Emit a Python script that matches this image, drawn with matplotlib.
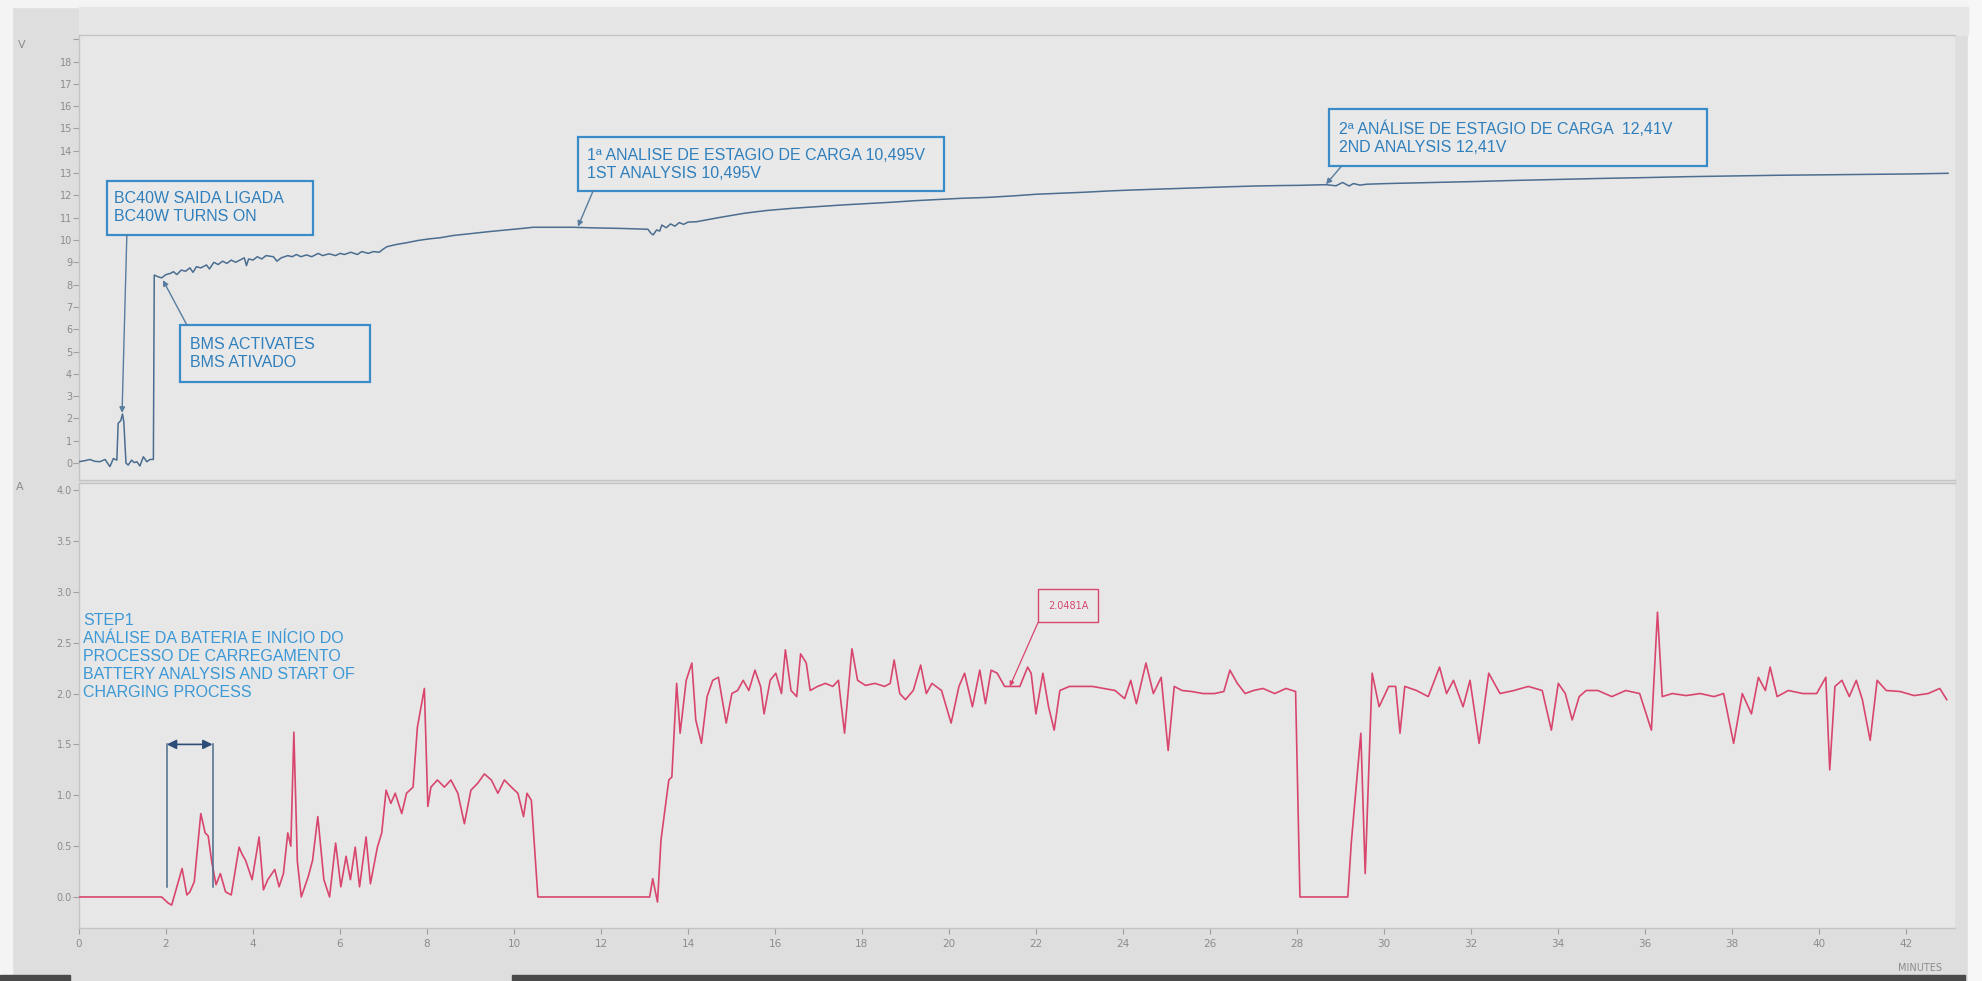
# plot.py

import matplotlib.pyplot as plt
from matplotlib.patches import Rectangle

# voltage trace (minutes, V)
volt_t = [0.0, 0.12, 0.25, 0.36, 0.48, 0.6, 0.71, 0.79, 0.87, 0.9, 0.96, 1.0, 1.03, 1.08, 1.13,
          1.21, 1.27, 1.33, 1.4, 1.48, 1.56, 1.63, 1.71, 1.73, 1.82, 1.9, 2.0, 2.1, 2.17, 2.25,
          2.35, 2.45, 2.55, 2.62, 2.7, 2.8, 2.93, 3.0, 3.1, 3.2, 3.3, 3.4, 3.5, 3.6, 3.7, 3.8,
          3.85, 3.9, 4.0, 4.1, 4.2, 4.3, 4.47, 4.55, 4.65, 4.8, 4.9, 5.0, 5.1, 5.23, 5.35, 5.5,
          5.6, 5.75, 5.9, 6.0, 6.1, 6.25, 6.4, 6.5, 6.65, 6.77, 6.9, 7.0, 7.08, 7.3, 7.54, 7.8,
          8.05, 8.3, 8.6, 9.07, 9.45, 9.83, 10.2, 10.44, 10.8, 11.36, 11.9, 12.44, 13.08, 13.15,
          13.2, 13.28, 13.35, 13.4, 13.5, 13.6, 13.7, 13.8, 13.9, 14.0, 14.2, 14.7, 15.3, 15.8,
          16.4, 17.0, 17.55, 18.1, 18.66, 19.2, 19.78, 20.3, 20.9, 21.5, 22.0, 22.6, 23.1, 23.7,
          24.2, 24.8, 25.4, 25.95, 26.5, 27.05, 27.6, 28.07, 28.5, 28.67, 28.9, 29.05, 29.2,
          29.3, 29.45, 29.6, 30.07, 31.0, 32.07, 33.0, 34.07, 35.0, 36.07, 37.0, 38.07, 39.0,
          40.07, 41.0, 42.07, 42.97]
volt_v = [0.06, 0.1, 0.16, 0.08, 0.06, 0.16, -0.16, 0.2, 0.13, 1.78, 1.9, 2.2, 1.85, 0.0, -0.09,
          0.13, 0.02, 0.06, -0.13, 0.28, 0.06, 0.16, 0.16, 8.43, 8.35, 8.3, 8.45, 8.5, 8.58, 8.45,
          8.65, 8.6, 8.75, 8.55, 8.8, 8.75, 8.88, 8.7, 9.0, 8.9, 9.05, 8.95, 9.1, 9.0, 9.1, 9.2,
          8.85, 9.15, 9.1, 9.25, 9.15, 9.3, 9.25, 9.05, 9.2, 9.3, 9.25, 9.35, 9.25, 9.33, 9.25, 9.4,
          9.3, 9.38, 9.3, 9.4, 9.35, 9.45, 9.35, 9.48, 9.4, 9.48, 9.45, 9.6, 9.7, 9.8, 9.88, 9.98,
          10.05, 10.1, 10.2, 10.3, 10.38, 10.45, 10.52, 10.57, 10.57, 10.57, 10.54, 10.52, 10.48, 10.3,
          10.23, 10.45, 10.4, 10.67, 10.55, 10.72, 10.62, 10.78, 10.7, 10.8, 10.82, 11.0, 11.2, 11.32,
          11.42, 11.5, 11.57, 11.63, 11.69, 11.76, 11.82, 11.87, 11.91, 11.98, 12.05, 12.1, 12.14, 12.2,
          12.24, 12.28, 12.32, 12.36, 12.39, 12.42, 12.44, 12.45, 12.47, 12.48, 12.43, 12.58, 12.42,
          12.53, 12.46, 12.5, 12.53, 12.57, 12.62, 12.67, 12.72, 12.76, 12.8, 12.84, 12.87, 12.9,
          12.92, 12.94, 12.96, 12.99]

# current trace (minutes, A)
curr_t = [0.0, 1.9, 2.05, 2.13, 2.25, 2.37, 2.48, 2.55, 2.65, 2.8, 2.9, 2.97, 3.05, 3.15, 3.25,
          3.37, 3.5, 3.68, 3.75, 3.83, 3.98, 4.14, 4.24, 4.34, 4.5, 4.6, 4.7, 4.8, 4.87, 4.94,
          5.02, 5.11, 5.27, 5.37, 5.49, 5.63, 5.76, 5.9, 6.02, 6.14, 6.24, 6.35, 6.45, 6.6, 6.7,
          6.86, 6.96, 7.06, 7.17, 7.27, 7.42, 7.53, 7.68, 7.78, 7.94, 8.02, 8.09, 8.24, 8.4, 8.55,
          8.71, 8.86, 9.01, 9.17, 9.32, 9.48, 9.63, 9.78, 9.94, 10.09, 10.22, 10.3, 10.4, 10.55,
          13.12, 13.19, 13.3, 13.38, 13.56, 13.63, 13.74, 13.82, 13.96, 14.09, 14.18, 14.31, 14.44,
          14.57, 14.7, 14.88, 15.01, 15.14, 15.27, 15.4, 15.54, 15.67, 15.75, 15.89, 16.02, 16.15,
          16.24, 16.37, 16.5, 16.59, 16.72, 16.81, 16.98, 17.16, 17.33, 17.46, 17.6, 17.77, 17.9,
          18.08, 18.3, 18.52, 18.65, 18.74, 18.87, 19.0, 19.18, 19.35, 19.48, 19.61, 19.83, 20.05,
          20.23, 20.36, 20.54, 20.71, 20.84, 20.97, 21.11, 21.28, 21.46, 21.63, 21.81, 21.89, 22.0,
          22.16, 22.29, 22.42, 22.55, 22.77, 23.04, 23.3, 23.56, 23.82, 24.04, 24.18, 24.31, 24.53,
          24.7, 24.88, 25.04, 25.18, 25.36, 25.58, 25.84, 26.11, 26.32, 26.46, 26.63, 26.81, 27.0,
          27.22, 27.49, 27.75, 27.97, 28.07, 29.17, 29.25, 29.47, 29.57, 29.73, 29.89, 30.11, 30.27,
          30.37, 30.48, 30.75, 31.02, 31.28, 31.44, 31.6, 31.82, 31.98, 32.19, 32.41, 32.67, 32.99,
          33.32, 33.64, 33.85, 34.01, 34.17, 34.33, 34.49, 34.65, 34.92, 35.24, 35.56, 35.88, 36.15,
          36.29, 36.4, 36.63, 36.95, 37.27, 37.59, 37.81, 38.04, 38.24, 38.45, 38.61, 38.77, 38.88,
          39.04, 39.3, 39.63, 39.95, 40.16, 40.25, 40.37, 40.53, 40.7, 40.86, 41.0, 41.18, 41.34,
          41.55, 41.87, 42.19, 42.51, 42.78, 42.94]
curr_a = [0.0, 0.0, -0.06, -0.08, 0.1, 0.28, 0.02, 0.05, 0.15, 0.82, 0.63, 0.6, 0.35, 0.12, 0.23,
          0.05, 0.02, 0.49, 0.42, 0.36, 0.17, 0.59, 0.07, 0.17, 0.27, 0.1, 0.23, 0.63, 0.5, 1.62,
          0.35, 0.0, 0.2, 0.36, 0.79, 0.17, 0.0, 0.53, 0.1, 0.4, 0.17, 0.49, 0.1, 0.59, 0.13,
          0.49, 0.63, 1.05, 0.92, 1.02, 0.82, 1.02, 1.08, 1.67, 2.05, 0.89, 1.08, 1.15, 1.08, 1.15,
          1.02, 0.72, 1.05, 1.12, 1.21, 1.15, 1.02, 1.15, 1.08, 1.02, 0.79, 1.02, 0.95, 0.0,
          0.0, 0.18, -0.05, 0.56, 1.15, 1.18, 2.10, 1.61, 2.13, 2.30, 1.74, 1.51, 1.97,
          2.13, 2.16, 1.71, 2.0, 2.03, 2.13, 2.03, 2.23, 2.07, 1.8, 2.13, 2.2, 2.0,
          2.43, 2.03, 1.97, 2.39, 2.3, 2.03, 2.07, 2.10, 2.07, 2.13, 1.61, 2.44, 2.13,
          2.08, 2.10, 2.07, 2.10, 2.33, 2.0, 1.94, 2.03, 2.28, 2.0, 2.10, 2.03, 1.71,
          2.07, 2.2, 1.87, 2.23, 1.90, 2.23, 2.20, 2.07, 2.07, 2.07, 2.26, 2.2, 1.8,
          2.2, 1.87, 1.64, 2.03, 2.07, 2.07, 2.07, 2.05, 2.03, 1.95, 2.13, 1.90, 2.30,
          2.0, 2.16, 1.44, 2.07, 2.03, 2.02, 2.0, 2.0, 2.02, 2.23, 2.10, 2.0, 2.03,
          2.05, 2.0, 2.05, 2.02, 0.0, 0.0, 0.53, 1.61, 0.23, 2.20, 1.87, 2.07, 2.07,
          1.61, 2.07, 2.03, 1.97, 2.26, 2.0, 2.13, 1.87, 2.13, 1.51, 2.20, 2.0, 2.03,
          2.07, 2.03, 1.64, 2.10, 2.0, 1.74, 1.97, 2.03, 2.03, 1.97, 2.03, 2.0, 1.64,
          2.80, 1.97, 2.0, 1.98, 2.0, 1.97, 2.0, 1.51, 2.0, 1.80, 2.16, 2.03, 2.26,
          1.97, 2.03, 2.0, 2.0, 2.16, 1.25, 2.07, 2.13, 1.97, 2.13, 1.94, 1.54, 2.13,
          2.03, 2.02, 1.98, 2.0, 2.05, 1.94]

x_ticks = list(range(0, 43, 2))
volt_ticks = list(range(0, 20))
volt_labels = [str(v) for v in range(0, 19)] + ['']
curr_ticks = [0.0, 0.5, 1.0, 1.5, 2.0, 2.5, 3.0, 3.5, 4.0]
curr_labels = ['0.0', '0.5', '1.0', '1.5', '2.0', '2.5', '3.0', '3.5', '4.0']

# boxed notes on the voltage panel: text, box (x0, x1, y0, y1), text anchor, arrow start, arrow tip
volt_notes = [
    ('BC40W SAIDA LIGADA\nBC40W TURNS ON', (0.64, 5.38, 10.22, 12.65), (0.8, 11.45), (1.1, 10.22), (0.99, 2.25)),
    ('BMS ACTIVATES\nBMS ATIVADO', (2.32, 6.69, 3.63, 6.19), (2.55, 4.9), (2.48, 6.19), (1.93, 8.2)),
    ('1ª ANALISE DE ESTAGIO DE CARGA 10,495V\n1ST ANALYSIS 10,495V', (11.47, 19.89, 12.2, 14.62),
     (11.68, 13.4), (11.82, 12.2), (11.47, 10.6)),
    ('2ª ANÁLISE DE ESTAGIO DE CARGA  12,41V\n2ND ANALYSIS 12,41V', (28.74, 37.43, 13.32, 15.87),
     (28.97, 14.6), (29.03, 13.32), (28.67, 12.5)),
]
step_text = ('STEP1\nANÁLISE DA BATERIA E INÍCIO DO\nPROCESSO DE CARREGAMENTO\n'
             'BATTERY ANALYSIS AND START OF\nCHARGING PROCESS')
curr_note = '2.0481A'

W, H = 1982, 981
fig = plt.figure(figsize=(W / 100, H / 100), dpi=100, facecolor='#dedede')

# screenshot frame
def px_rect(x0, y0, x1, y1, color):
    fig.patches.append(Rectangle((x0 / W, 1 - y1 / H), (x1 - x0) / W, (y1 - y0) / H,
                                 transform=fig.transFigure, color=color, zorder=-5))

px_rect(0, 0, W, 7, '#f4f4f4')
px_rect(0, 0, 12, H, '#f4f4f4')
px_rect(1968, 0, W, H, '#f7f7f7')
px_rect(79, 7, 1968, 35, '#e6e6e6')
px_rect(0, 975, 70, H, '#4a4a4a')
px_rect(512, 975, 1965, H, '#4a4a4a')

left, width = 79 / W, (1955 - 79) / W
ax1 = fig.add_axes([left, 1 - 480 / H, width, (480 - 35) / H])
ax2 = fig.add_axes([left, 1 - 928 / H, width, (928 - 483) / H])

for ax in (ax1, ax2):
    ax.set_facecolor('#e7e7e7')
    ax.set_xlim(0, 43.13)
    for s in ax.spines.values():
        s.set_color('#c4c4c4')
        s.set_linewidth(1.0)
    ax.tick_params(axis='y', direction='out', length=4, width=0.8, color='#a0a0a0',
                   labelcolor='#8c8c8c', labelsize=7, pad=1)
    ax.tick_params(axis='x', direction='out', length=4, width=0.8, color='#a0a0a0',
                   labelcolor='#8c8c8c', labelsize=7.5, pad=4)
    ax.set_xticks(x_ticks)

ax1.set_ylim(-0.76, 19.19)
ax1.set_yticks(volt_ticks)
ax1.set_yticklabels(volt_labels)
ax1.tick_params(axis='x', bottom=False, labelbottom=False)
ax1.spines['right'].set_visible(False)

ax2.set_ylim(-0.305, 4.07)
ax2.set_yticks(curr_ticks)
ax2.set_yticklabels(curr_labels)
ax2.spines['right'].set_visible(False)

ax1.plot(volt_t, volt_v, color='#4b6d8f', lw=1.1, zorder=3)
ax2.plot(curr_t, curr_a, color='#d8466e', lw=1.2, zorder=3)

note_font = ['Liberation Sans', 'DejaVu Sans']
for text, (bx0, bx1, by0, by1), (tx, ty), (ax0, ay0), (ax_, ay_) in volt_notes:
    ax1.add_patch(Rectangle((bx0, by0), bx1 - bx0, by1 - by0, facecolor='#e9e9e9',
                            edgecolor='#3a8cc9', lw=1.6, zorder=4))
    ax1.text(tx, ty, text, family=note_font, fontsize=11.5, color='#2f7fbd',
             va='center', ha='left', linespacing=1.25, zorder=5)
    ax1.annotate('', xy=(ax_, ay_), xytext=(ax0, ay0),
                 arrowprops=dict(arrowstyle='-|>', color='#567c9f', lw=1.0, mutation_scale=8,
                                 shrinkA=0, shrinkB=0), zorder=5)

# step 1 label and bracket
ax2.text(0.1, 2.79, step_text, family=note_font, fontsize=11.5, color='#3b98d6',
         va='top', ha='left', linespacing=1.25, zorder=5)
ax2.plot([2.02, 2.02], [0.1, 1.5], color='#4b6d8f', lw=1.1, zorder=4)
ax2.plot([3.07, 3.07], [0.1, 1.5], color='#4b6d8f', lw=1.1, zorder=4)
ax2.annotate('', xy=(2.02, 1.5), xytext=(3.07, 1.5),
             arrowprops=dict(arrowstyle='<|-|>', color='#2c4d78', lw=1.2, mutation_scale=14,
                             shrinkA=0, shrinkB=0), zorder=5)

# current value marker
ax2.add_patch(Rectangle((22.05, 2.70), 1.38, 0.33, facecolor='#e9e9e9', edgecolor='#d8466e',
                        lw=1.0, zorder=4))
ax2.text(22.74, 2.865, curr_note, fontsize=7, color='#d8466e', ha='center', va='center', zorder=5)
ax2.annotate('', xy=(21.4, 2.07), xytext=(22.05, 2.70),
             arrowprops=dict(arrowstyle='-|>', color='#d8466e', lw=0.9, mutation_scale=7,
                             shrinkA=0, shrinkB=0), zorder=5)

fig.text(22 / W, 1 - 45 / H, 'V', fontsize=8, color='#8c8c8c', ha='center', va='center')
fig.text(20 / W, 1 - 487 / H, 'A', fontsize=8, color='#8c8c8c', ha='center', va='center')
fig.text(1920 / W, 1 - 968 / H, 'MINUTES', fontsize=7, color='#8c8c8c', ha='center', va='center')

fig.savefig('out.png', dpi=100, facecolor=fig.get_facecolor())
